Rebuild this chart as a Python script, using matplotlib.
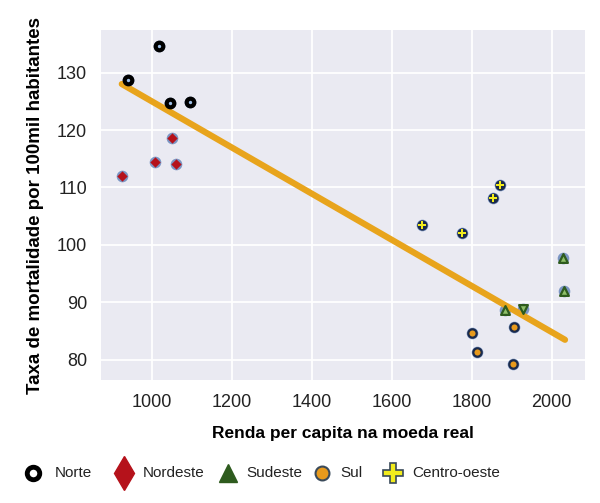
import numpy as np
import matplotlib
matplotlib.use("Agg")
from matplotlib import pyplot as plt
from matplotlib.lines import Line2D

plt.rcParams['font.family'] = ['Liberation Sans', 'DejaVu Sans']

# renda per capita (x) e taxa de mortalidade (y) por regiao
norte_x = [941, 1018, 1046, 1096]
norte_y = [128.7, 134.6, 124.7, 124.9]
nordeste_x = [926, 1008, 1051, 1061]
nordeste_y = [112.0, 114.4, 118.6, 114.1]
sudeste_x = [1883, 1928, 2028, 2031]
sudeste_y = [88.7, 88.9, 97.7, 92.0]
sudeste_m = ['^', 'v', '^', '^']
sul_x = [1801, 1813, 1906, 1903]
sul_y = [84.7, 81.4, 85.7, 79.3]
co_x = [1676, 1776, 1853, 1871]
co_y = [103.5, 102.1, 108.2, 110.4]

# reta de tendencia (extremos)
trend_x = [925, 2033]
trend_y = [128.0, 83.5]

x_ticks = [1000, 1200, 1400, 1600, 1800, 2000]
y_ticks = [80, 90, 100, 110, 120, 130]

halo = '#4C72B0'
navy = '#1b2a4a'

fig = plt.figure(figsize=(6, 5.03), dpi=100)
ax = fig.add_axes([101/600, 1-380/503, 484/600, 350/503])
ax.set_facecolor('#EAEAF2')
ax.grid(True, color='white', lw=1.3)
ax.set_axisbelow(True)
for s in ax.spines.values():
    s.set_visible(False)

all_x = norte_x + nordeste_x + sudeste_x + sul_x + co_x
all_y = norte_y + nordeste_y + sudeste_y + sul_y + co_y

# halo azul por baixo de todos os pontos
ax.scatter(all_x, all_y, s=70, color=halo, alpha=0.7, lw=0, zorder=2)

ax.plot(trend_x, trend_y, color='#E8A41C', lw=4.5, solid_capstyle='round', zorder=3)

ax.scatter(norte_x, norte_y, s=30, facecolor='#9fc0e8', edgecolor='black', lw=3.0, zorder=4)
ax.scatter(nordeste_x, nordeste_y, s=28, marker='D', color='#B5121B', lw=0, zorder=4)
for x, y, m in zip(sudeste_x, sudeste_y, sudeste_m):
    ax.scatter(x, y, s=40, marker=m, facecolor='#8fbf6a', edgecolor='#2E5B1E', lw=1.6, zorder=4)
ax.scatter(sul_x, sul_y, s=36, facecolor='#E89A1C', edgecolor=navy, lw=1.6, zorder=4)
ax.scatter(co_x, co_y, s=55, color=navy, lw=0, zorder=4)
ax.scatter(co_x, co_y, s=32, marker='P', color='#F2EC1C', lw=0, zorder=5)

ax.set_xlim(873, 2083)
ax.set_ylim(76.5, 137.4)
ax.set_xticks(x_ticks)
ax.set_yticks(y_ticks)
ax.tick_params(length=0, labelsize=13, colors='#222222', pad=10)

ax.set_xlabel('Renda per capita na moeda real', fontsize=12.5, fontweight='bold', labelpad=11)
ax.set_ylabel('Taxa de mortalidade por 100mil habitantes', fontsize=13.5, fontweight='bold', labelpad=9)

# legenda manual abaixo do grafico
leg_y = 1 - 473/503
leg_items = [
    ('Norte', 33, 55, dict(marker='o', ms=9, mfc='white', mec='black', mew=3.5)),
    ('Nordeste', 124, 143, dict(marker='d', ms=17, mfc='#B5121B', mec='#B5121B')),
    ('Sudeste', 228, 246, dict(marker='^', ms=13, mfc='#2E5B1E', mec='#2E5B1E')),
    ('Sul', 322, 340, dict(marker='o', ms=10, mfc='#E89A1C', mec='#3a4a5a', mew=1.5)),
    ('Centro-oeste', 393, 412, dict(marker='P', ms=14, mfc='#F2EC1C', mec='#3a4a5a', mew=1.2)),
]
for lab, mx, tx, kw in leg_items:
    fig.add_artist(Line2D([mx/600], [leg_y], transform=fig.transFigure, ls='none', **kw))
    fig.text(tx/600, leg_y, lab, fontsize=11, va='center', ha='left', color='#222222')

fig.savefig('out.png', dpi=100)
